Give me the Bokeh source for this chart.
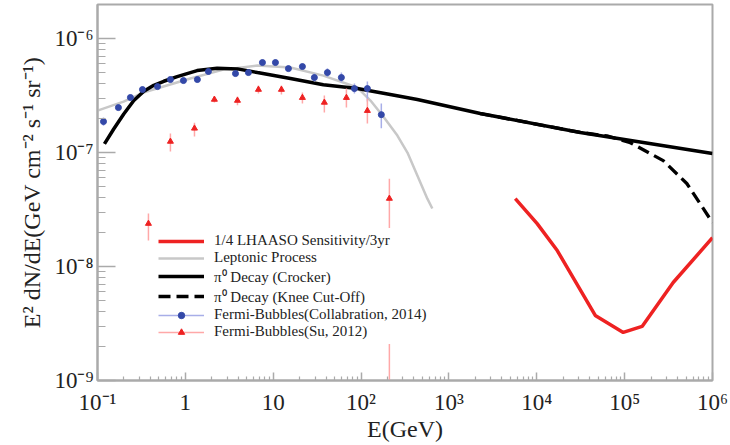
from bokeh.plotting import figure
from bokeh.models import (Range1d, FixedTicker, CustomJSTickFormatter, Legend, LegendItem)
from bokeh.embed import file_html
from bokeh.resources import INLINE

# ---------------- data ----------------
# pi0 decay (Crocker)
croc_E = [0.120, 0.153, 0.199, 0.259, 0.337, 0.437, 0.568, 0.807, 1.36, 2.30, 3.92, 6.61,
          15.7, 37.2, 90.8, 215, 437, 2275, 3.13e4, 1e6]
croc_F = [1.19e-7, 1.61e-7, 2.18e-7, 2.86e-7, 3.45e-7, 3.89e-7, 4.22e-7, 4.64e-7, 5.24e-7,
          5.48e-7, 5.42e-7, 5.03e-7, 4.46e-7, 3.94e-7, 3.64e-7, 3.23e-7, 2.92e-7, 2.20e-7,
          1.50e-7, 9.8e-8]

# pi0 decay (knee cut-off)
knee_E = [2275, 3.13e4, 6.3e4, 1.16e5, 2.75e5, 5.1e5, 1e6]
knee_F = [2.20e-7, 1.50e-7, 1.40e-7, 1.22e-7, 8.5e-8, 5.35e-8, 2.43e-8]

# leptonic process
lep_E = [0.1, 0.198, 0.333, 1.14, 2.71, 6.61, 15.7, 37.2, 90.8, 128, 179, 259, 337, 437,
         568, 647]
lep_F = [2.33e-7, 2.80e-7, 3.36e-7, 4.46e-7, 5.34e-7, 5.80e-7, 5.57e-7, 4.73e-7, 3.72e-7,
         2.86e-7, 2.07e-7, 1.41e-7, 1.0e-7, 6.28e-8, 3.94e-8, 3.23e-8]

# 1/4 LHAASO sensitivity 3yr
lha_E = [5.69e3, 1.01e4, 1.71e4, 4.63e4, 9.64e4, 1.58e5, 3.57e5, 1e6]
lha_F = [3.94e-8, 2.38e-8, 1.38e-8, 3.72e-9, 2.64e-9, 2.98e-9, 7.24e-9, 1.79e-8]

# Fermi bubbles (Collaboration 2014)
fc_E = [0.117, 0.173, 0.237, 0.325, 0.482, 0.676, 0.951, 1.37, 1.83, 3.72, 5.22, 7.54,
        10.6, 14.9, 21.5, 29.4, 41.4, 59.7, 84, 118, 170]
fc_F = [1.87e-7, 2.48e-7, 3.04e-7, 3.57e-7, 3.79e-7, 4.37e-7, 4.28e-7, 4.37e-7, 5.14e-7,
        4.93e-7, 5.03e-7, 6.16e-7, 6.16e-7, 5.45e-7, 5.68e-7, 4.55e-7, 5.03e-7, 4.55e-7,
        3.64e-7, 3.64e-7, 2.15e-7]
fc_lo = [1.72e-7, 2.38e-7, 2.92e-7, 3.43e-7, 3.64e-7, 4.20e-7, 4.10e-7, 4.20e-7, 4.94e-7,
         4.70e-7, 4.80e-7, 5.90e-7, 5.90e-7, 5.20e-7, 5.40e-7, 4.20e-7, 4.60e-7, 4.11e-7,
         3.30e-7, 2.80e-7, 1.63e-7]
fc_hi = [2.03e-7, 2.58e-7, 3.16e-7, 3.72e-7, 3.95e-7, 4.55e-7, 4.46e-7, 4.55e-7, 5.35e-7,
         5.17e-7, 5.27e-7, 6.43e-7, 6.43e-7, 5.71e-7, 5.97e-7, 4.93e-7, 5.50e-7, 5.03e-7,
         4.03e-7, 4.20e-7, 2.69e-7]

# Fermi bubbles (Su 2012)
su_E = [0.380, 0.676, 1.27, 2.14, 3.92, 6.79, 12.4, 21.5, 38.2, 68.1, 118, 210]
su_F = [2.38e-8, 1.25e-7, 1.63e-7, 2.92e-7, 2.86e-7, 3.57e-7, 3.57e-7, 3.03e-7, 2.75e-7,
        3.03e-7, 2.33e-7, 3.95e-8]
su_lo = [1.69e-8, 1.02e-7, 1.38e-7, 2.75e-7, 2.60e-7, 3.30e-7, 3.23e-7, 2.70e-7, 2.24e-7,
         2.48e-7, 1.80e-7, 1e-10]
su_hi = [2.92e-8, 1.47e-7, 1.83e-7, 3.10e-7, 3.10e-7, 3.87e-7, 3.87e-7, 3.36e-7, 3.16e-7,
         3.64e-7, 2.97e-7, 5.9e-8]

x_ticks = [1e-1, 1, 10, 1e2, 1e3, 1e4, 1e5, 1e6]
y_ticks = [1e-9, 1e-8, 1e-7, 1e-6]

# ---------------- figure ----------------
FONT = "Liberation Serif"
AX = "#aaaaaa"

p = figure(width=730, height=445, x_axis_type="log", y_axis_type="log",
           x_range=Range1d(0.1, 1e6), y_range=Range1d(1e-9, 1.99e-6),
           output_backend="svg", toolbar_location=None,
           min_border_left=97, min_border_right=18, min_border_top=4, min_border_bottom=65)
p.background_fill_color = "white"
p.border_fill_color = "white"
p.outline_line_color = AX
p.outline_line_width = 2
p.xgrid.visible = False
p.ygrid.visible = False

x_minor = [m * 10.0 ** e for e in range(-1, 6) for m in range(2, 10)]
y_minor = [m * 10.0 ** e for e in range(-9, -5) for m in range(2, 10)]

p.xaxis.ticker = FixedTicker(ticks=x_ticks, minor_ticks=x_minor)
p.yaxis.ticker = FixedTicker(ticks=y_ticks, minor_ticks=y_minor)

sup_js = """
const sup = {'-':'\u207b','0':'\u2070','1':'\u00b9','2':'\u00b2','3':'\u00b3','4':'\u2074',
             '5':'\u2075','6':'\u2076','7':'\u2077','8':'\u2078','9':'\u2079'};
const e = Math.round(Math.log10(tick));
%s
return '10' + String(e).split('').map(c => sup[c]).join('');
"""
p.xaxis.formatter = CustomJSTickFormatter(code=sup_js % "if (e == 0) return '1'; if (e == 1) return '10';")
p.yaxis.formatter = CustomJSTickFormatter(code=sup_js % "")

for ax in (p.xaxis, p.yaxis):
    ax.axis_line_color = AX
    ax.axis_line_width = 2
    ax.major_tick_line_color = AX
    ax.minor_tick_line_color = AX
    ax.major_tick_line_width = 1.5
    ax.minor_tick_line_width = 1.2
    ax.major_tick_out = 0
    ax.minor_tick_out = 0
    ax.major_label_text_font = FONT
    ax.major_label_text_font_size = "23px"
    ax.major_label_text_color = "#222222"
    ax.axis_label_text_font = FONT
    ax.axis_label_text_font_size = "24px"
    ax.axis_label_text_font_style = "normal"
    ax.axis_label_text_color = "#222222"

p.xaxis.major_tick_in = 8
p.xaxis.minor_tick_in = 4
p.yaxis.major_tick_in = 18
p.yaxis.minor_tick_in = 8
p.xaxis.major_label_standoff = 9
p.yaxis.major_label_standoff = 4
p.xaxis.axis_label_standoff = -2
p.yaxis.axis_label_standoff = 6
p.xaxis.axis_label = "E(GeV)"
p.yaxis.axis_label = "E\u00b2 dN/dE(GeV cm\u207b\u00b2 s\u207b\u00b9 sr\u207b\u00b9)"

# curves
r_lep = p.line(lep_E, lep_F, line_color="#c8c8c8", line_width=2.5)
r_knee = p.line(knee_E, knee_F, line_color="black", line_width=3.3, line_dash="12 6")
r_croc = p.line(croc_E, croc_F, line_color="black", line_width=3.5)

# error bars and points
r_fc_err = p.segment(x0=fc_E, y0=fc_lo, x1=fc_E, y1=fc_hi, line_color="#a8aee8", line_width=1.5)
r_su_err = p.segment(x0=su_E, y0=su_lo, x1=su_E, y1=su_hi, line_color="#ffa8a8", line_width=1.5)
r_fc = p.scatter(fc_E, fc_F, marker="circle", size=6, fill_color="#3348a8",
                 line_color="#3348a8")
r_su = p.scatter(su_E, su_F, marker="triangle", size=6, fill_color="#ee2222",
                 line_color="#ee2222")

r_lha = p.line(lha_E, lha_F, line_color="#ee2222", line_width=3.5)

legend = Legend(items=[
    LegendItem(label="1/4 LHAASO Sensitivity/3yr", renderers=[r_lha]),
    LegendItem(label="Leptonic Process", renderers=[r_lep]),
    LegendItem(label="\u03c0\u2070 Decay (Crocker)", renderers=[r_croc]),
    LegendItem(label="\u03c0\u2070 Decay (Knee Cut-Off)", renderers=[r_knee]),
    LegendItem(label="Fermi-Bubbles(Collabration, 2014)", renderers=[r_fc_err, r_fc]),
    LegendItem(label="Fermi-Bubbles(Su, 2012)", renderers=[r_su_err, r_su]),
], location=(57, 36))
legend.label_text_font = FONT
legend.label_text_font_size = "15px"
legend.label_text_color = "#222222"
legend.label_height = 16
legend.glyph_height = 16
legend.glyph_width = 46
legend.label_standoff = 10
legend.spacing = -2
legend.padding = 4
legend.margin = 0
legend.border_line_alpha = 0
legend.background_fill_color = "white"
legend.background_fill_alpha = 1.0
p.add_layout(legend)

open("out.html", "w").write(file_html(p, INLINE))
